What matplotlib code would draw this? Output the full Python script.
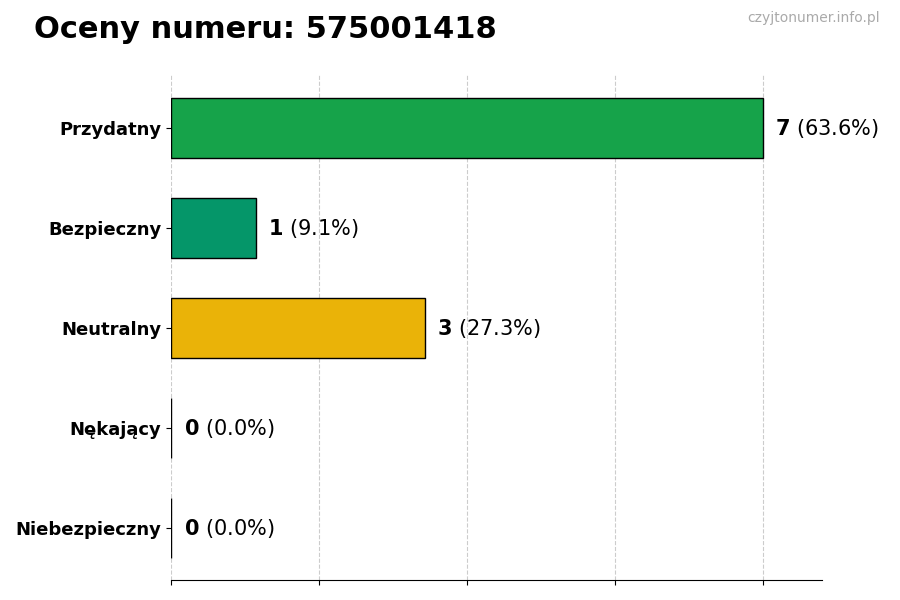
import matplotlib
matplotlib.use("Agg")
import matplotlib.pyplot as plt

categories = ["Niebezpieczny", "Nękający", "Neutralny", "Bezpieczny", "Przydatny"]
counts = [0, 0, 3, 1, 7]
percents = [0.0, 0.0, 27.3, 9.1, 63.6]
colors = ["#dc2626", "#f97316", "#eab308", "#059669", "#16a34a"]

fig = plt.figure(figsize=(9, 6), dpi=100)
ax = fig.add_axes([0.19, 0.033, 0.723, 0.842])

y = range(len(categories))
ax.barh(y, counts, height=0.6, color=colors, edgecolor="black", linewidth=1, zorder=3)

for i, (c, p) in enumerate(zip(counts, percents)):
    ax.text(c + 0.15, i, r"$\bf{%d}$ (%.1f%%)" % (c, p), va="center", ha="left", fontsize=15)

ax.set_yticks(list(y))
ax.set_yticklabels(categories, fontsize=13, fontweight="bold")
ax.set_xlim(0, 7.7)
ax.set_ylim(-0.52, 4.53)
ax.set_xticks([0, 1.75, 3.5, 5.25, 7])
ax.set_xticklabels([])
ax.grid(axis="x", linestyle="--", color="#cccccc", linewidth=0.8, zorder=0)
for s in ["top", "right", "left"]:
    ax.spines[s].set_visible(False)

fig.text(0.038, 0.95, "Oceny numeru: 575001418", fontsize=22, fontweight="bold", va="center")
fig.text(0.978, 0.97, "czyjtonumer.info.pl", fontsize=10, color="#aaaaaa", ha="right", va="center")

fig.savefig("out.png", dpi=100)
